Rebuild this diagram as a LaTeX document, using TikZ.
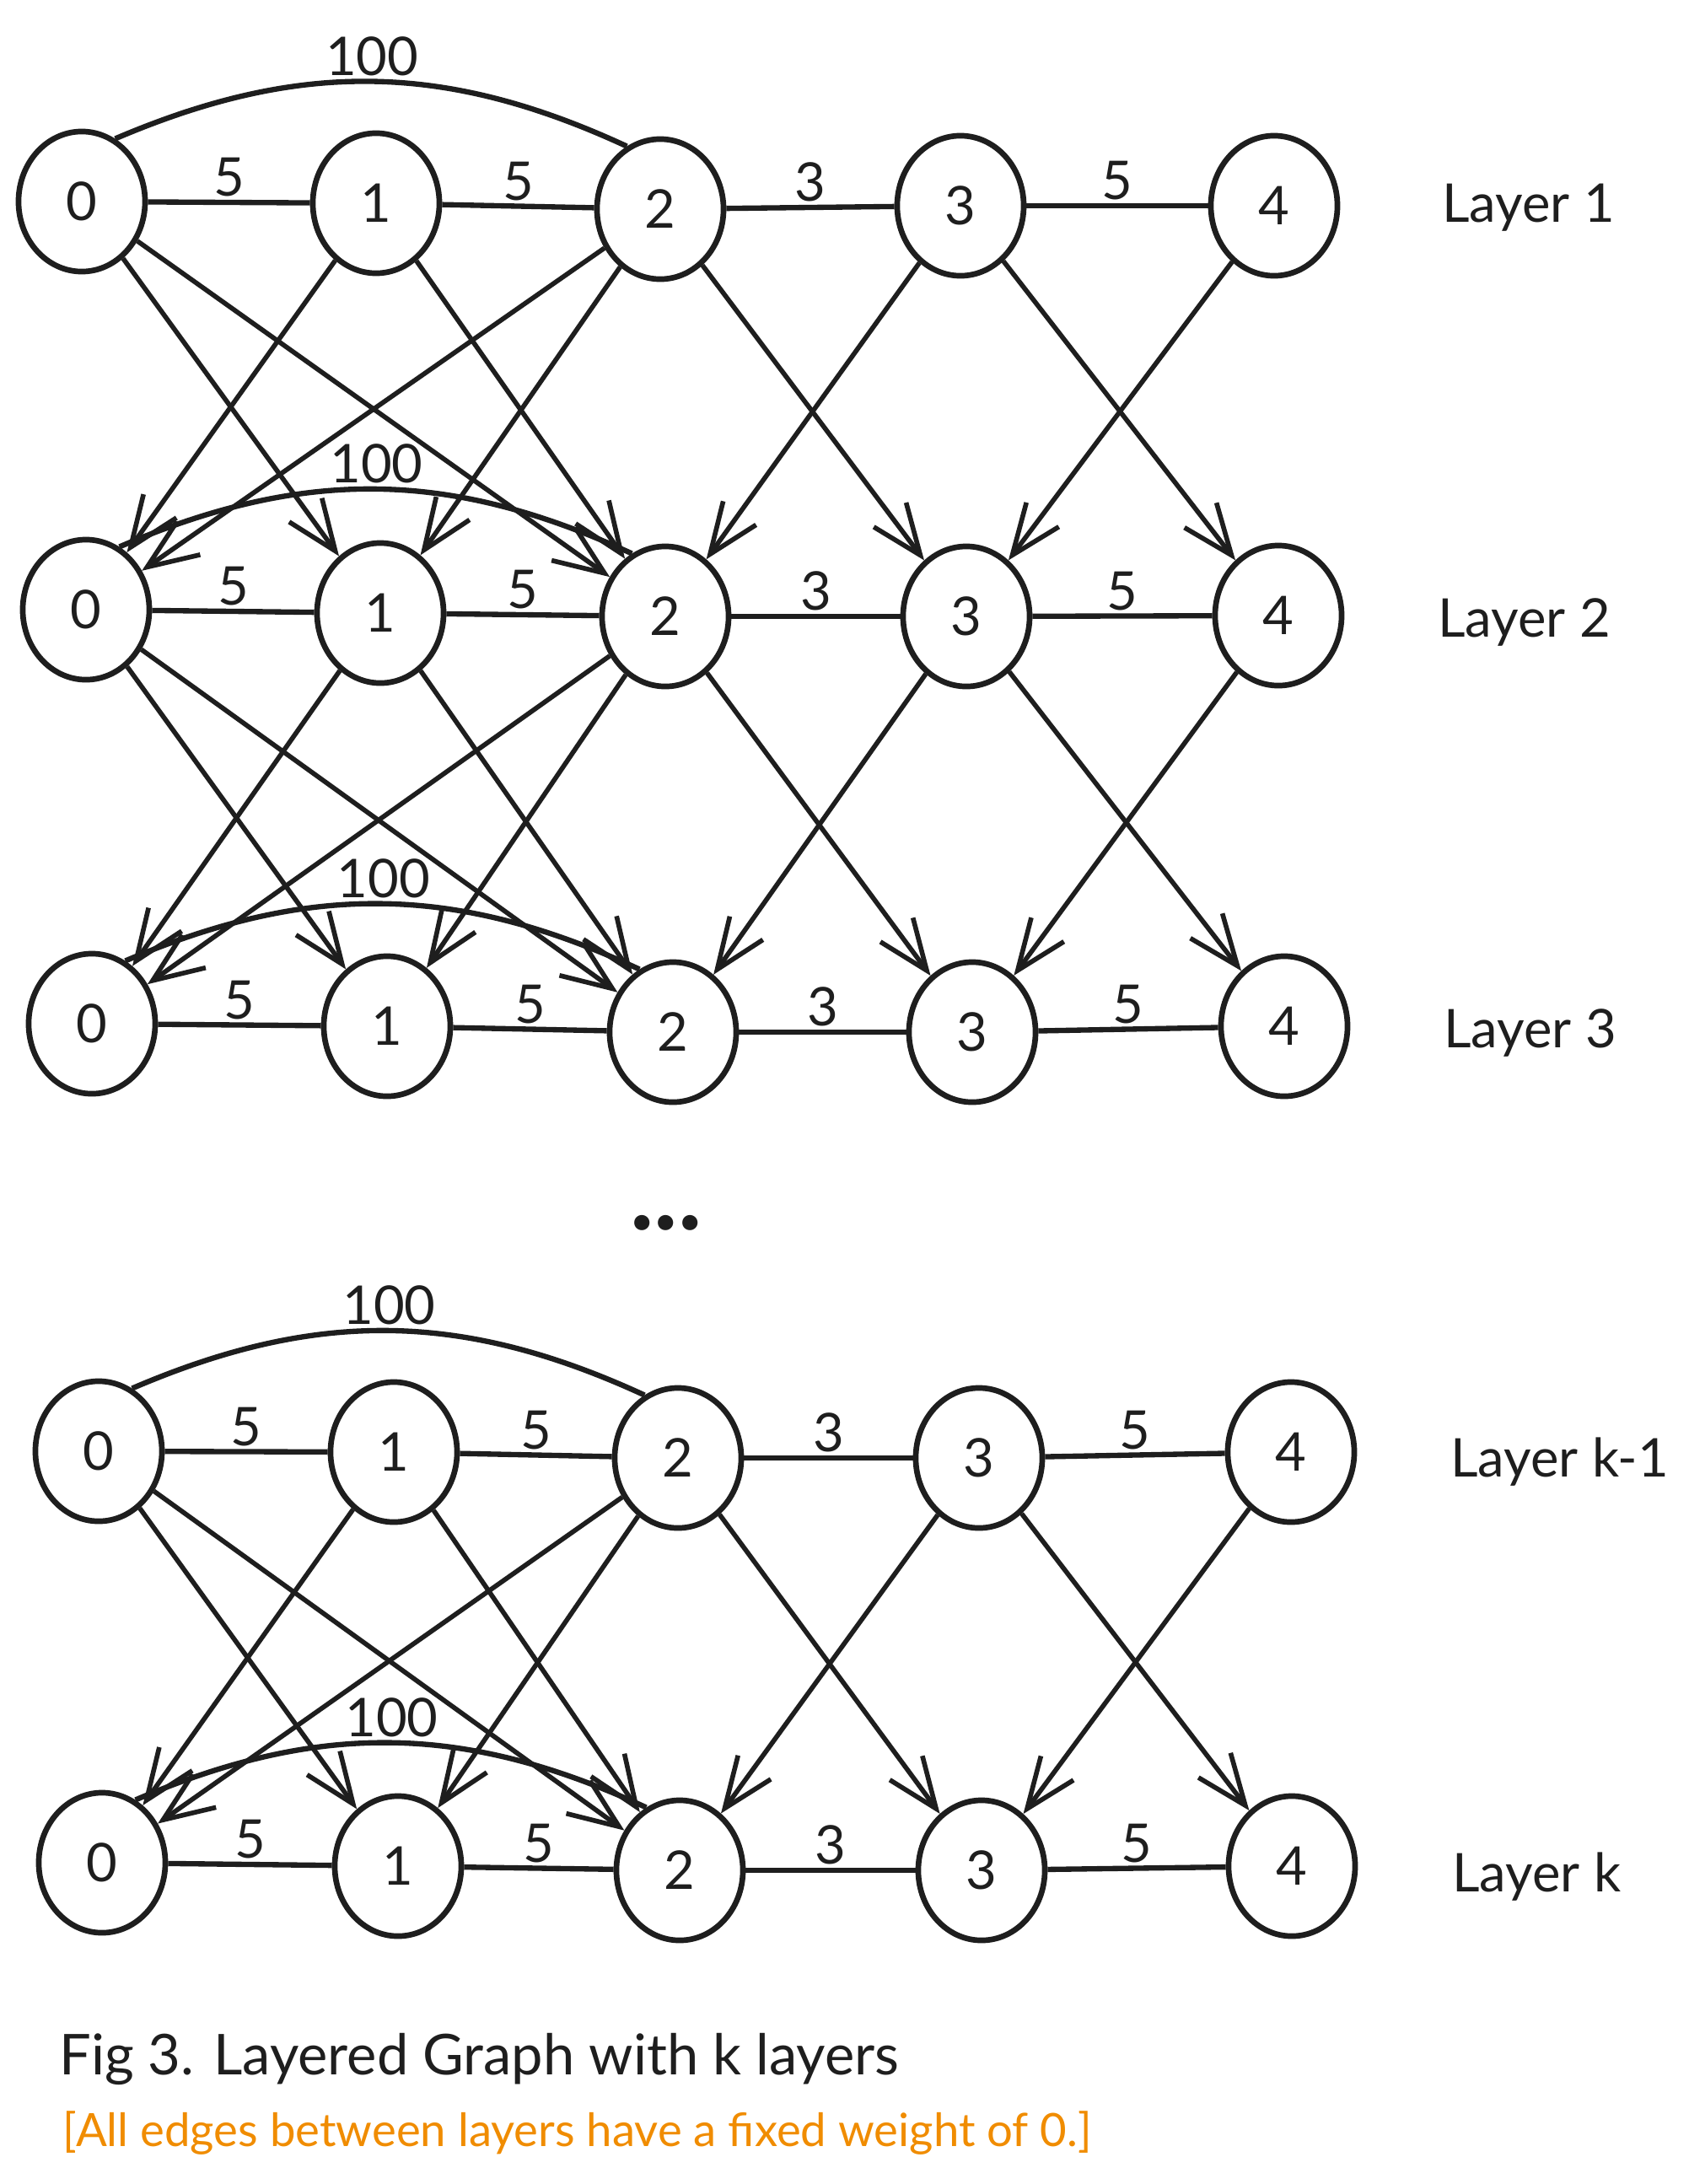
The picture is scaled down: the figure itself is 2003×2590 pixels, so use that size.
\documentclass[tikz,border=0pt]{standalone}
\usepackage{fontspec}
\setmainfont{Lato}
\usetikzlibrary{arrows.meta,shapes.geometric}
\definecolor{inkblack}{HTML}{1E1E1E}
\definecolor{noteorange}{HTML}{F08C00}
\tikzset{
    vertex/.style={draw=inkblack, ellipse, line width=1.9pt, minimum width=1.5cm,
        minimum height=1.66cm, inner sep=0pt, text=inkblack, font=\fontsize{18}{18}\selectfont},
    link/.style={draw=inkblack, line width=1.8pt},
    jump/.style={draw=inkblack, line width=1.6pt, -{Straight Barb[length=6mm,width=4.8mm]}},
    wlabel/.style={midway, above, inner sep=1pt, text=inkblack, font=\fontsize{18}{18}\selectfont},
    layername/.style={anchor=west, text=inkblack, font=\fontsize{18}{18}\selectfont},
}
\begin{document}
\begin{tikzpicture}[x=0.01cm, y=-0.01cm]
                \useasboundingbox (0,0) rectangle (2003,2590);
                % layer 1
                \node[vertex] (a0) at (97,239) {0};
                \node[vertex] (a1) at (446,241) {1};
                \node[vertex] (a2) at (783,248) {2};
                \node[vertex] (a3) at (1139,244) {3};
                \node[vertex] (a4) at (1511,244) {4};
                \node[layername] (la) at (1698,246) {Layer 1};
                % layer 2
                \node[vertex] (b0) at (102,723) {0};
                \node[vertex] (b1) at (451,727) {1};
                \node[vertex] (b2) at (789,731) {2};
                \node[vertex] (b3) at (1146,731) {3};
                \node[vertex] (b4) at (1516,730) {4};
                \node[layername] (lb) at (1693,738) {Layer 2};
                % layer 3
                \node[vertex] (c0) at (109,1214) {0};
                \node[vertex] (c1) at (459,1217) {1};
                \node[vertex] (c2) at (798,1224) {2};
                \node[vertex] (c3) at (1153,1224) {3};
                \node[vertex] (c4) at (1523,1217) {4};
                \node[layername] (lc) at (1700,1225) {Layer 3};
                % layer k-1
                \node[vertex] (d0) at (117,1721) {0};
                \node[vertex] (d1) at (467,1722) {1};
                \node[vertex] (d2) at (804,1729) {2};
                \node[vertex] (d3) at (1161,1729) {3};
                \node[vertex] (d4) at (1531,1722) {4};
                \node[layername] (ld) at (1708,1734) {Layer k-1};
                % layer k
                \node[vertex] (e0) at (121,2209) {0};
                \node[vertex] (e1) at (472,2213) {1};
                \node[vertex] (e2) at (806,2218) {2};
                \node[vertex] (e3) at (1164,2218) {3};
                \node[vertex] (e4) at (1532,2213) {4};
                \node[layername] (le) at (1710,2226) {Layer k};

                \node[anchor=base, text=inkblack, font=\fontsize{34}{34}\selectfont\bfseries] (dots) at (790,1458) {...};

                % weights inside the layers
                \draw[link] (a0) -- (a1)
                    node [wlabel] {5};
                \draw[link] (a1) -- (a2)
                    node [wlabel] {5};
                \draw[link] (a2) -- (a3)
                    node [wlabel] {3};
                \draw[link] (a3) -- (a4)
                    node [wlabel] {5};
                \draw[link] (a0.62) to[bend left=24]
                    node [wlabel] {100} (a2.118);
                \draw[link] (b0) -- (b1)
                    node [wlabel] {5};
                \draw[link] (b1) -- (b2)
                    node [wlabel] {5};
                \draw[link] (b2) -- (b3)
                    node [wlabel] {3};
                \draw[link] (b3) -- (b4)
                    node [wlabel] {5};
                \draw[link] (b0.62) to[bend left=24]
                    node [wlabel] {100} (b2.118);
                \draw[link] (c0) -- (c1)
                    node [wlabel] {5};
                \draw[link] (c1) -- (c2)
                    node [wlabel] {5};
                \draw[link] (c2) -- (c3)
                    node [wlabel] {3};
                \draw[link] (c3) -- (c4)
                    node [wlabel] {5};
                \draw[link] (c0.62) to[bend left=24]
                    node [wlabel] {100} (c2.118);
                \draw[link] (d0) -- (d1)
                    node [wlabel] {5};
                \draw[link] (d1) -- (d2)
                    node [wlabel] {5};
                \draw[link] (d2) -- (d3)
                    node [wlabel] {3};
                \draw[link] (d3) -- (d4)
                    node [wlabel] {5};
                \draw[link] (d0.62) to[bend left=24]
                    node [wlabel] {100} (d2.118);
                \draw[link] (e0) -- (e1)
                    node [wlabel] {5};
                \draw[link] (e1) -- (e2)
                    node [wlabel] {5};
                \draw[link] (e2) -- (e3)
                    node [wlabel] {3};
                \draw[link] (e3) -- (e4)
                    node [wlabel] {5};
                \draw[link] (e0.62) to[bend left=24]
                    node [wlabel] {100} (e2.118);

                % layer 1 to layer 2
                \draw[jump] (a0) -- (b1);
                \draw[jump] (a0) -- (b2);
                \draw[jump] (a1) -- (b0);
                \draw[jump] (a1) -- (b2);
                \draw[jump] (a2) -- (b0);
                \draw[jump] (a2) -- (b1);
                \draw[jump] (a2) -- (b3);
                \draw[jump] (a3) -- (b2);
                \draw[jump] (a3) -- (b4);
                \draw[jump] (a4) -- (b3);
                % layer 2 to layer 3
                \draw[jump] (b0) -- (c1);
                \draw[jump] (b0) -- (c2);
                \draw[jump] (b1) -- (c0);
                \draw[jump] (b1) -- (c2);
                \draw[jump] (b2) -- (c0);
                \draw[jump] (b2) -- (c1);
                \draw[jump] (b2) -- (c3);
                \draw[jump] (b3) -- (c2);
                \draw[jump] (b3) -- (c4);
                \draw[jump] (b4) -- (c3);
                % layer k-1 to layer k
                \draw[jump] (d0) -- (e1);
                \draw[jump] (d0) -- (e2);
                \draw[jump] (d1) -- (e0);
                \draw[jump] (d1) -- (e2);
                \draw[jump] (d2) -- (e0);
                \draw[jump] (d2) -- (e1);
                \draw[jump] (d2) -- (e3);
                \draw[jump] (d3) -- (e2);
                \draw[jump] (d3) -- (e4);
                \draw[jump] (d4) -- (e3);

                \node[anchor=base west, text=inkblack, font=\fontsize{19}{19}\selectfont] (caption) at (58,2460) {Fig 3. Layered Graph with k layers};
                \node[anchor=base west, text=noteorange, font=\fontsize{15.5}{15.5}\selectfont] (note) at (62,2545) {[All edges between layers have a fixed weight of 0.]};
            \end{tikzpicture}
\end{document}
